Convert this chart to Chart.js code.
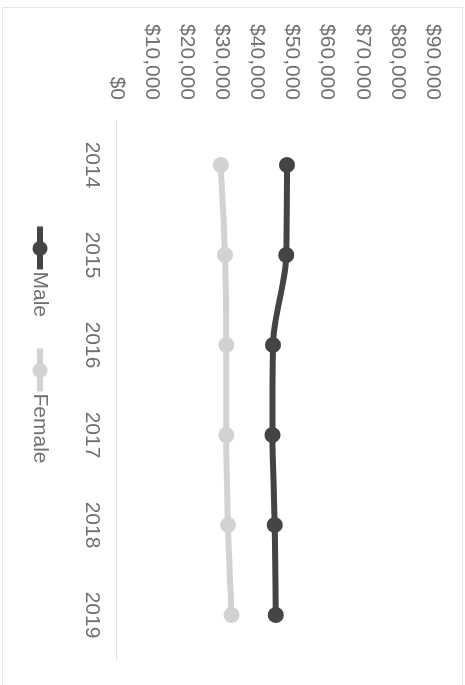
<!DOCTYPE html>
<html>
<head>
<meta charset="utf-8">
<script src="https://cdn.jsdelivr.net/npm/chart.js@4"></script>
<style>
  html, body { margin: 0; padding: 0; background: #fff; }
  #page { position: relative; width: 465px; height: 685px; overflow: hidden; }
  /* chart is drawn landscape, then turned a quarter clockwise */
  #frame {
    position: absolute; left: 0; top: 0; width: 685px; height: 465px;
    transform-origin: 0 0; transform: translate(465px, 0) rotate(90deg);
  }
  #box {
    position: absolute; left: 7px; top: 2px; width: 700px; height: 461px;
    box-sizing: border-box; border: 1px solid #e6e6e6;
  }
  #salaryChart { position: absolute; left: 0; top: 0; }
</style>
</head>
<body>
<div id="page">
  <div id="frame">
    <div id="box"></div>
    <canvas id="salaryChart" width="685" height="465"></canvas>
  </div>
</div>
<script>
const years = ['2014', '2015', '2016', '2017', '2018', '2019'];
const maleSalary = [48500, 48300, 44500, 44350, 45000, 45300];
const femaleSalary = [29600, 30800, 31200, 31200, 31700, 32700];
const seriesNames = ['Male', 'Female'];
const seriesColors = ['#444444', '#d2d2d2'];

const legendPad = 26.5;
const xAxisHeight = 40;

// legend marker: short line with a dot, drawn a bit right of the image centre
function makeMarker(color) {
    const c = document.createElement('canvas');
    c.width = 58;
    c.height = 18;
    const g = c.getContext('2d');
    const cx = 36.25;
    g.strokeStyle = color;
    g.lineWidth = 6;
    g.beginPath();
    g.moveTo(cx - 22, 9);
    g.lineTo(cx + 21, 9);
    g.stroke();
    g.fillStyle = color;
    g.beginPath();
    g.arc(cx, 9, 7.5, 0, Math.PI * 2);
    g.fill();
    return c;
}
const legendMarkers = seriesColors.map(makeMarker);

Chart.defaults.font.family = '"Liberation Sans", Arial, sans-serif';
Chart.defaults.font.size = 21;
Chart.defaults.color = '#707070';

function lineSet(label, data, color) {
    return {
        label: label,
        data: data,
        borderColor: color,
        backgroundColor: color,
        borderWidth: 6,
        cubicInterpolationMode: 'monotone',
        pointRadius: 8,
        pointBackgroundColor: color,
        pointBorderColor: color,
        pointBorderWidth: 0,
        fill: false
    };
}

new Chart(document.getElementById('salaryChart'), {
    type: 'line',
    data: {
        labels: years,
        datasets: [
            lineSet(seriesNames[0], maleSalary, seriesColors[0]),
            lineSet(seriesNames[1], femaleSalary, seriesColors[1])
        ]
    },
    options: {
        responsive: false,
        animation: false,
        devicePixelRatio: 1,
        layout: { padding: { left: 0, right: 0, top: 32, bottom: 19.5 } },
        plugins: {
            tooltip: { enabled: false },
            legend: {
                position: 'bottom',
                labels: {
                    usePointStyle: true,
                    pointStyleWidth: 39.5,
                    padding: legendPad,
                    color: '#707070',
                    generateLabels: chart => Chart.defaults.plugins.legend.labels.generateLabels(chart)
                        .map((item, i) => ({ ...item, pointStyle: legendMarkers[i] }))
                }
            }
        },
        scales: {
            x: {
                offset: true,
                grid: { display: false, drawTicks: false },
                border: { display: true, color: '#e2e2e2', width: 1 },
                ticks: { padding: 13, maxRotation: 0 },
                afterFit: s => { s.height = xAxisHeight; }
            },
            y: {
                min: 0,
                max: 90000,
                grid: { display: false, drawTicks: false },
                border: { display: false },
                ticks: {
                    stepSize: 10000,
                    padding: 20,
                    callback: v => '$' + v.toLocaleString('en-US')
                },
                afterFit: s => { s.width = 120; }
            },
            // empty right-hand gutter
            yPad: {
                position: 'right',
                grid: { display: false, drawTicks: false },
                border: { display: false },
                ticks: { display: false },
                afterFit: s => { s.width = 25; }
            }
        }
    }
});
</script>
</body>
</html>
